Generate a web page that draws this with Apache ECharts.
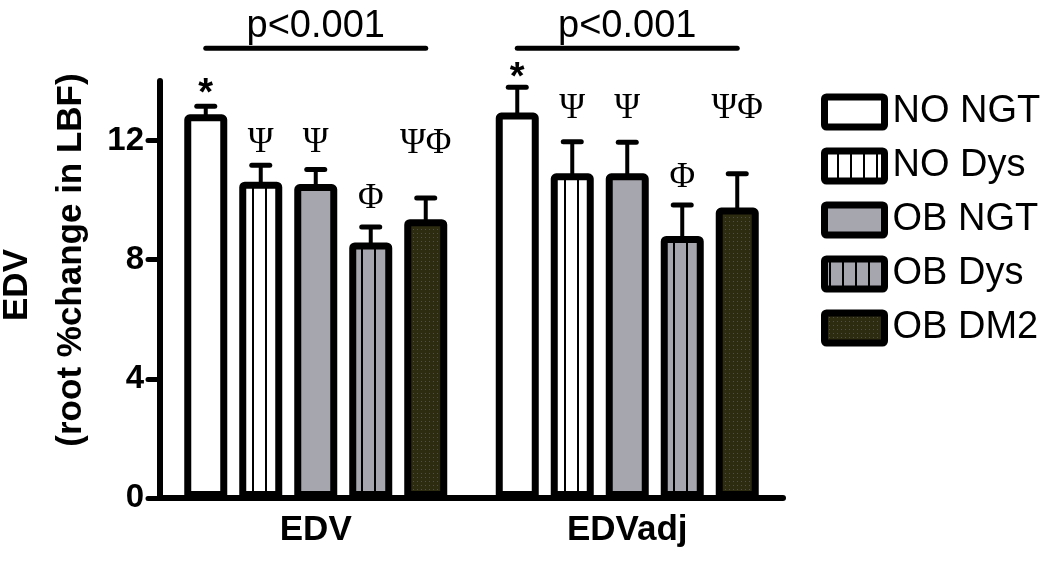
<!DOCTYPE html>
<html>
<head>
<meta charset="utf-8">
<script src="https://cdn.jsdelivr.net/npm/echarts@6/dist/echarts.min.js"></script>
<style>html,body{margin:0;padding:0;background:#fff}#c{width:1050px;height:563px}</style>
</head>
<body>
<div id="c"></div>
<script>
// ---- data ----
const categories = ['EDV', 'EDVadj'];
const groups = ['NO NGT', 'NO Dys', 'OB NGT', 'OB Dys', 'OB DM2'];
const noNgt = [12.88, 12.94];
const noDys = [10.62, 10.90];
const obNgt = [10.54, 10.90];
const obDys = [8.58, 8.80];
const obDm2 = [9.36, 9.75];
const noNgtErr = [0.27, 0.85];
const noDysErr = [0.55, 1.06];
const obNgtErr = [0.49, 1.04];
const obDysErr = [0.52, 1.04];
const obDm2Err = [0.71, 1.14];
const yTicks = [0, 4, 8, 12];
// significance markers above each bar (per category, per group) and their levels
const markEDV = ['*', 'Ψ', 'Ψ', 'Φ', 'ΨΦ'];
const markEDVadj = ['*', 'Ψ', 'Ψ', 'Φ', 'ΨΦ'];
const markLevelEDV = [13.84, 11.92, 11.92, 10.06, 11.90];
const markLevelEDVadj = [14.38, 13.05, 13.05, 10.74, 13.05];
const sigLabels = ['p<0.001', 'p<0.001'];
const sigLevels = [15.1, 15.1];

const means = [noNgt, noDys, obNgt, obDys, obDm2];
const errs = [noNgtErr, noDysErr, obNgtErr, obDysErr, obDm2Err];
const marks = [markEDV, markEDVadj];
const markLevels = [markLevelEDV, markLevelEDVadj];

// ---- fills ----
function stripes(bg, phase) {
  const c = document.createElement('canvas');
  c.width = 13; c.height = 4;
  const g = c.getContext('2d');
  g.fillStyle = bg; g.fillRect(0, 0, 13, 4);
  g.fillStyle = '#000';
  for (let i = 0; i < 2; i++) g.fillRect((phase + i) % 13, 0, 1, 4);
  return { image: c, repeat: 'repeat' };
}
function dots(bg, dot) {
  const c = document.createElement('canvas');
  c.width = 4; c.height = 4;
  const g = c.getContext('2d');
  g.fillStyle = bg; g.fillRect(0, 0, 4, 4);
  g.fillStyle = dot; g.fillRect(1, 1, 1, 1);
  return { image: c, repeat: 'repeat' };
}
const GRAY = '#a6a6ae';
const fills = ['#ffffff', stripes('#ffffff', 5), GRAY, stripes(GRAY, 10), dots('#2d2b10', '#505046')];

const BAR_W = 43, BAR_GAP = '27.9%', BORDER = 7;
const SANS = "'Liberation Sans', Arial, sans-serif";
const SERIF = "'Liberation Serif', 'Times New Roman', serif";

function barCenter(api, cat, s) {
  const lay = api.barLayout({ barWidth: BAR_W, barGap: BAR_GAP, count: groups.length });
  return api.coord([cat, 0])[0] + lay[s].offsetCenter;
}

const errData = [];
const markData = [];
const markInfo = [];
categories.forEach((c, ci) => {
  groups.forEach((g, si) => {
    errData.push([ci, si, means[si][ci], errs[si][ci]]);
    markData.push([ci, si, markLevels[ci][si]]);
    markInfo.push(marks[ci][si]);
  });
});

const series = groups.map((g, i) => ({
  name: g,
  type: 'bar',
  data: means[i],
  barWidth: BAR_W,
  barGap: BAR_GAP,
  itemStyle: { color: fills[i], borderColor: '#000', borderWidth: BORDER, borderRadius: [2, 2, 0, 0] },
  emphasis: { disabled: true }
}));

series.push({
  type: 'custom', name: 'err', data: errData, encode: { x: 0, y: 2 }, z: 3,
  renderItem(params, api) {
    const cat = api.value(0), s = api.value(1), m = api.value(2), e = api.value(3);
    const x = barCenter(api, cat, s);
    const y0 = api.coord([cat, m])[1] + 2;
    const y1 = api.coord([cat, m + e])[1];
    return { type: 'group', children: [
      { type: 'line', shape: { x1: x, y1: y0, x2: x, y2: y1 }, style: { stroke: '#000', lineWidth: 4 } },
      { type: 'line', shape: { x1: x - 9, y1: y1, x2: x + 9, y2: y1 }, style: { stroke: '#000', lineWidth: 5, lineCap: 'round' } }
    ] };
  }
});

series.push({
  type: 'custom', name: 'marks', data: markData, encode: { x: 0, y: 2 }, z: 3,
  renderItem(params, api) {
    const cat = api.value(0), s = api.value(1), lv = api.value(2);
    const t = markInfo[params.dataIndex];
    const x = barCenter(api, cat, s);
    let y = api.coord([cat, lv])[1];
    const star = t === '*';
    const fs = star ? 38 : 35;
    if (star) y += 0.22 * fs;
    return { type: 'text', style: {
      text: t, x: x, y: y, align: 'center', verticalAlign: 'middle',
      textAlign: 'center', textVerticalAlign: 'middle',
      font: (star ? 'bold ' : '') + fs + 'px ' + (star ? SANS : SERIF), fill: '#000'
    } };
  }
});

series.push({
  type: 'custom', name: 'sig', data: sigLevels.map((v, i) => [i, v]), encode: { x: 0, y: 1 }, z: 3,
  renderItem(params, api) {
    const cat = api.value(0), lv = api.value(1);
    const xa = barCenter(api, cat, 0), xb = barCenter(api, cat, groups.length - 1);
    const y = api.coord([cat, lv])[1];
    const xc = api.coord([cat, lv])[0];
    return { type: 'group', children: [
      { type: 'line', shape: { x1: xa, y1: y, x2: xb, y2: y }, style: { stroke: '#000', lineWidth: 5, lineCap: 'round' } },
      { type: 'text', style: { text: sigLabels[params.dataIndex], x: xc, y: y - 3, align: 'center', verticalAlign: 'bottom',
        textAlign: 'center', textVerticalAlign: 'bottom', font: '38px ' + SANS, fill: '#000' } }
    ] };
  }
});

// legend drawn as graphic entries (thick framed swatches like the original)
const LEG_X = 824.5, LEG_Y = 112, LEG_STEP = 54;
const legendGraphics = [];
groups.forEach((g, i) => {
  const cy = LEG_Y + i * LEG_STEP;
  legendGraphics.push({ type: 'rect', shape: { x: LEG_X, y: cy - 15, width: 60, height: 30, r: 2 },
    style: { fill: fills[i], stroke: '#000', lineWidth: BORDER }, z: 10 });
  legendGraphics.push({ type: 'text', x: LEG_X + 68, y: cy, z: 10,
    style: { text: g, font: '38px ' + SANS, fill: '#000', align: 'left', verticalAlign: 'middle', textAlign: 'left', textVerticalAlign: 'middle' } });
});

const chart = echarts.init(document.getElementById('c'), null, { renderer: 'canvas' });
chart.setOption({
  animation: false,
  backgroundColor: '#fff',
  grid: { left: 160, right: 267, top: 81, bottom: 65, containLabel: false },
  xAxis: {
    type: 'category', data: categories,
    axisLine: { lineStyle: { color: '#000', width: 6, cap: 'round' } },
    axisTick: { alignWithLabel: true, length: 10, lineStyle: { color: '#000', width: 5 } },
    axisLabel: { color: '#000', fontSize: 35, fontWeight: 'bold', fontFamily: SANS, margin: 15 }
  },
  yAxis: {
    type: 'value', min: 0, max: 14, interval: 4,
    axisLine: { show: true, lineStyle: { color: '#000', width: 6, cap: 'round' } },
    axisTick: { show: true, length: 12, lineStyle: { color: '#000', width: 5, cap: 'round' }, customValues: yTicks },
    axisLabel: { color: '#000', fontSize: 33, fontWeight: 'bold', fontFamily: SANS, margin: 16, customValues: yTicks },
    splitLine: { show: false }
  },
  graphic: [
    { type: 'text', x: 17, y: 285, rotation: Math.PI / 2,
      style: { text: 'EDV', font: 'bold 35px ' + SANS, fill: '#000', align: 'center', verticalAlign: 'middle', textAlign: 'center', textVerticalAlign: 'middle' } },
    { type: 'text', x: 71, y: 260, rotation: Math.PI / 2,
      style: { text: '(root %change in LBF)', font: 'bold 35px ' + SANS, fill: '#000', align: 'center', verticalAlign: 'middle', textAlign: 'center', textVerticalAlign: 'middle' } }
  ].concat(legendGraphics),
  series: series
});
</script>
</body>
</html>
